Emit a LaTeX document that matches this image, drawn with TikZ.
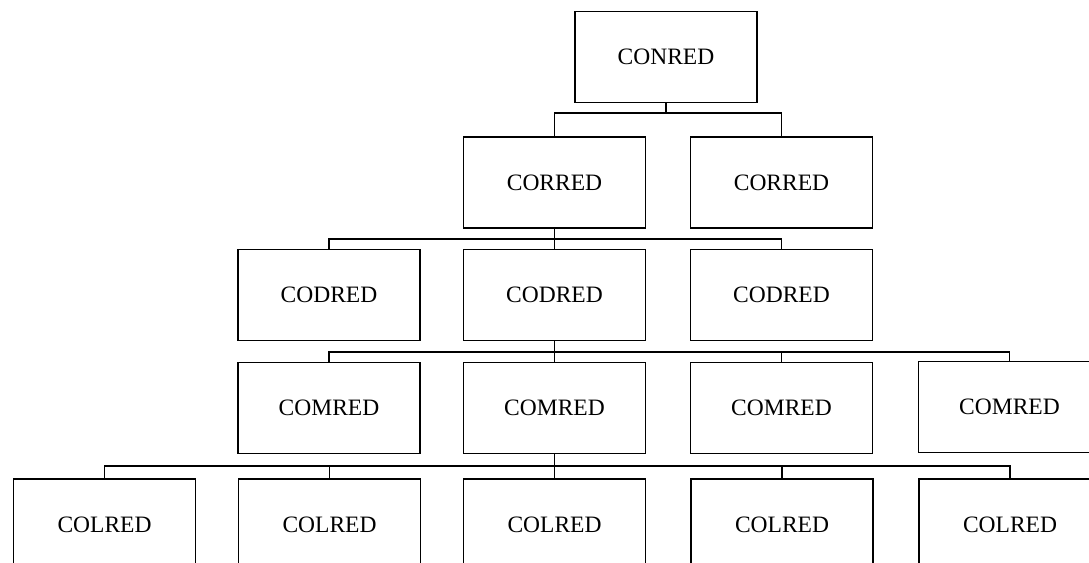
\documentclass[tikz,border=0pt]{standalone}
\usepackage{fontspec}
\setmainfont{Liberation Serif}
\begin{document}
\begin{tikzpicture}[x=1pt,y=-1pt,
  box/.style={draw,line width=1.5pt,minimum width=182pt,minimum height=91pt,inner sep=0pt,
    font=\fontsize{23.5}{28}\selectfont,anchor=center},
  link/.style={draw,line width=1.5pt}]
\useasboundingbox (0,0) rectangle (1089,562);
\clip (0,0) rectangle (1089,562);
% row 0
\node[box] (conred) at (666,57) {CONRED};
% row 1
\node[box] (corA) at (554.5,182.5) {CORRED};
\node[box] (corB) at (781.5,182.5) {CORRED};
% row 2
\node[box] (codA) at (329,295) {CODRED};
\node[box] (codB) at (554.5,295) {CODRED};
\node[box] (codC) at (781.5,295) {CODRED};
% row 3
\node[box] (comA) at (329,408) {COMRED};
\node[box] (comB) at (554.5,408) {COMRED};
\node[box] (comC) at (781.5,408) {COMRED};
\node[box] (comD) at (1009.5,407) {COMRED};
% row 4
\node[box] (colA) at (104.5,524.5) {COLRED};
\node[box] (colB) at (329.5,524.5) {COLRED};
\node[box] (colC) at (554.5,524.5) {COLRED};
\node[box] (colD) at (782,524.5) {COLRED};
\node[box] (colE) at (1010,524.5) {COLRED};
% bus levels
\coordinate (b1) at (0,113);
\coordinate (b2) at (0,239);
\coordinate (b3) at (0,352);
\coordinate (b4) at (0,466);
% connectors
\draw[link] (conred.south) -- (conred.south |- b1);
\draw[link] (corA.north) |- (corB.north |- b1) -- (corB.north);
\draw[link] (corA.south) -- (corA.south |- b2);
\draw[link] (codA.north) |- (codC.north |- b2) -- (codC.north);
\draw[link] (codB.north) -- (codB.north |- b2);
\draw[link] (codB.south) -- (codB.south |- b3);
\draw[link] (comA.north) |- (comD.north |- b3) -- (comD.north);
\draw[link] (comB.north) -- (comB.north |- b3);
\draw[link] (comC.north) -- (comC.north |- b3);
\draw[link] (comB.south) -- (comB.south |- b4);
\draw[link] (colA.north) |- (colE.north |- b4) -- (colE.north);
\draw[link] (colB.north) -- (colB.north |- b4);
\draw[link] (colC.north) -- (colC.north |- b4);
\draw[link] (colD.north) -- (colD.north |- b4);
\end{tikzpicture}
\end{document}
